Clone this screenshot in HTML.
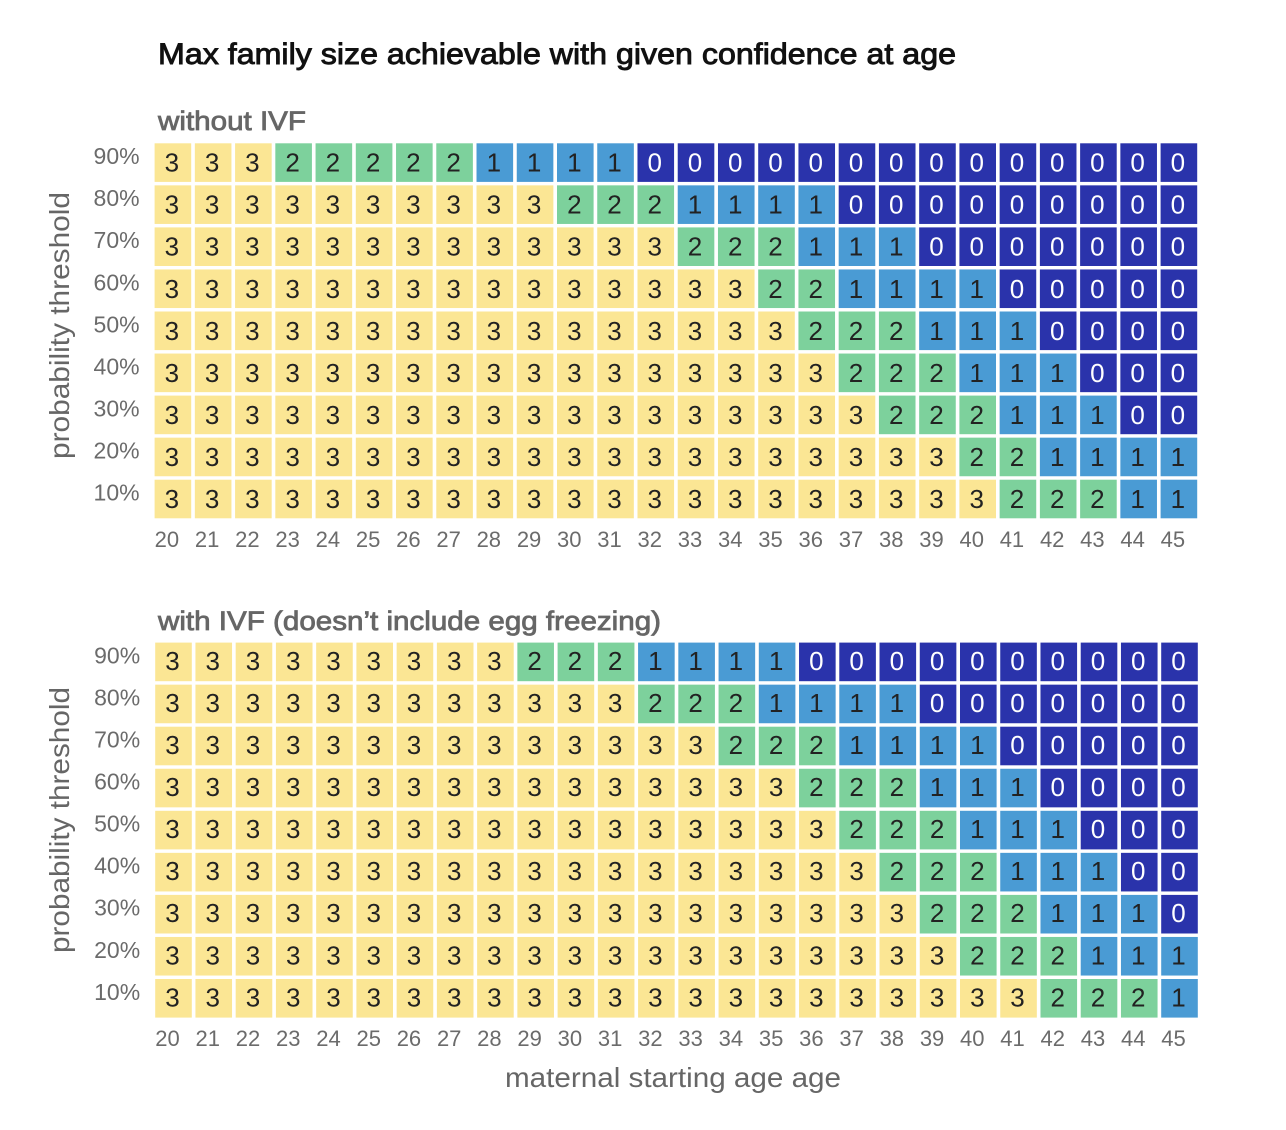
<!DOCTYPE html>
<html lang="en">
<head>
<meta charset="utf-8">
<title>Max family size heatmaps</title>
<style>
html,body{margin:0;padding:0;background:#fff;}
svg{display:block;font-family:"Liberation Sans",sans-serif;}
.main-title{font-size:30px;font-weight:normal;fill:#111;stroke:#111;stroke-width:0.9px;}
.sub-title{font-size:27px;font-weight:normal;fill:#666;stroke:#666;stroke-width:0.8px;}
.axis-title{font-size:28px;fill:#666;}
.tick-x{font-size:22px;fill:#6b6b6b;}
.tick-y{font-size:23px;fill:#6b6b6b;}
.cell-text{font-size:26px;text-anchor:middle;}
</style>
</head>
<body>
<svg id="chart" xmlns="http://www.w3.org/2000/svg" width="1286" height="1130" viewBox="0 0 1286 1130">
  <text class="main-title" x="158" y="64" textLength="798" lengthAdjust="spacingAndGlyphs">Max family size achievable with given confidence at age</text>
  <text class="sub-title" x="158" y="130" textLength="148" lengthAdjust="spacingAndGlyphs">without IVF</text>
  <text class="sub-title" x="158" y="630" textLength="503" lengthAdjust="spacingAndGlyphs">with IVF (doesn’t include egg freezing)</text>
  <text class="axis-title" transform="translate(69,459) rotate(-90)" textLength="267" lengthAdjust="spacingAndGlyphs">probability threshold</text>
  <text class="axis-title" transform="translate(69,953) rotate(-90)" textLength="266" lengthAdjust="spacingAndGlyphs">probability threshold</text>
  <text class="axis-title" x="505" y="1087" textLength="336" lengthAdjust="spacingAndGlyphs">maternal starting age age</text>
  <g id="panel-top"></g>
  <g id="panel-bottom"></g>
</svg>
<script>
const ages = [20,21,22,23,24,25,26,27,28,29,30,31,32,33,34,35,36,37,38,39,40,41,42,43,44,45];
const thresholds = ["90%","80%","70%","60%","50%","40%","30%","20%","10%"];
const withoutIvf = [
  [3,3,3,2,2,2,2,2,1,1,1,1,0,0,0,0,0,0,0,0,0,0,0,0,0,0],
  [3,3,3,3,3,3,3,3,3,3,2,2,2,1,1,1,1,0,0,0,0,0,0,0,0,0],
  [3,3,3,3,3,3,3,3,3,3,3,3,3,2,2,2,1,1,1,0,0,0,0,0,0,0],
  [3,3,3,3,3,3,3,3,3,3,3,3,3,3,3,2,2,1,1,1,1,0,0,0,0,0],
  [3,3,3,3,3,3,3,3,3,3,3,3,3,3,3,3,2,2,2,1,1,1,0,0,0,0],
  [3,3,3,3,3,3,3,3,3,3,3,3,3,3,3,3,3,2,2,2,1,1,1,0,0,0],
  [3,3,3,3,3,3,3,3,3,3,3,3,3,3,3,3,3,3,2,2,2,1,1,1,0,0],
  [3,3,3,3,3,3,3,3,3,3,3,3,3,3,3,3,3,3,3,3,2,2,1,1,1,1],
  [3,3,3,3,3,3,3,3,3,3,3,3,3,3,3,3,3,3,3,3,3,2,2,2,1,1]
];
const withIvf = [
  [3,3,3,3,3,3,3,3,3,2,2,2,1,1,1,1,0,0,0,0,0,0,0,0,0,0],
  [3,3,3,3,3,3,3,3,3,3,3,3,2,2,2,1,1,1,1,0,0,0,0,0,0,0],
  [3,3,3,3,3,3,3,3,3,3,3,3,3,3,2,2,2,1,1,1,1,0,0,0,0,0],
  [3,3,3,3,3,3,3,3,3,3,3,3,3,3,3,3,2,2,2,1,1,1,0,0,0,0],
  [3,3,3,3,3,3,3,3,3,3,3,3,3,3,3,3,3,2,2,2,1,1,1,0,0,0],
  [3,3,3,3,3,3,3,3,3,3,3,3,3,3,3,3,3,3,2,2,2,1,1,1,0,0],
  [3,3,3,3,3,3,3,3,3,3,3,3,3,3,3,3,3,3,3,2,2,2,1,1,1,0],
  [3,3,3,3,3,3,3,3,3,3,3,3,3,3,3,3,3,3,3,3,2,2,2,1,1,1],
  [3,3,3,3,3,3,3,3,3,3,3,3,3,3,3,3,3,3,3,3,3,3,2,2,2,1]
];
const palette = ["#2a33ab","#4a9bd4","#7dd19c","#fbe694"];
const textColors = ["#ffffff","#222222","#222222","#222222"];

const NS = "http://www.w3.org/2000/svg";
function draw(groupId, values, left, top, digitShift) {
  const group = document.getElementById(groupId);
  const pitchX = 40.24, pitchY = 42.05, cellW = 36.6, cellH = 38.6;
  const xScale = function (i) { return left + i * pitchX; };
  const yScale = function (j) { return top + j * pitchY; };
  values.forEach(function (row, j) {
    row.forEach(function (v, i) {
      const rect = document.createElementNS(NS, "rect");
      rect.setAttribute("x", xScale(i));
      rect.setAttribute("y", yScale(j));
      rect.setAttribute("width", cellW);
      rect.setAttribute("height", cellH);
      rect.setAttribute("fill", palette[v]);
      
      
      group.appendChild(rect);
      const label = document.createElementNS(NS, "text");
      label.setAttribute("x", xScale(i) + cellW / 2 - 1);
      label.setAttribute("y", yScale(j) + cellH / 2 + 9 + digitShift);
      label.setAttribute("class", "cell-text");
      label.setAttribute("fill", textColors[v]);
      label.textContent = v;
      
      
      group.appendChild(label);
    });
  });
  thresholds.forEach(function (t, j) {
    const tick = document.createElementNS(NS, "text");
    tick.setAttribute("x", left - 15);
    tick.setAttribute("y", yScale(j) + cellH / 2 + 1.5);
    tick.setAttribute("text-anchor", "end");
    tick.setAttribute("class", "tick-y");
    tick.textContent = t;
    
    
    group.appendChild(tick);
  });
  ages.forEach(function (a, i) {
    const tick = document.createElementNS(NS, "text");
    tick.setAttribute("x", xScale(i) + cellW / 2 - 6);
    tick.setAttribute("y", yScale(values.length - 1) + cellH + 28.5);
    tick.setAttribute("text-anchor", "middle");
    tick.setAttribute("class", "tick-x");
    tick.textContent = a;
    
    
    group.appendChild(tick);
  });
}
draw("panel-top", withoutIvf, 154.6, 143.3, 0);
draw("panel-bottom", withIvf, 155.2, 642.6, -1);
</script>
</body>
</html>
